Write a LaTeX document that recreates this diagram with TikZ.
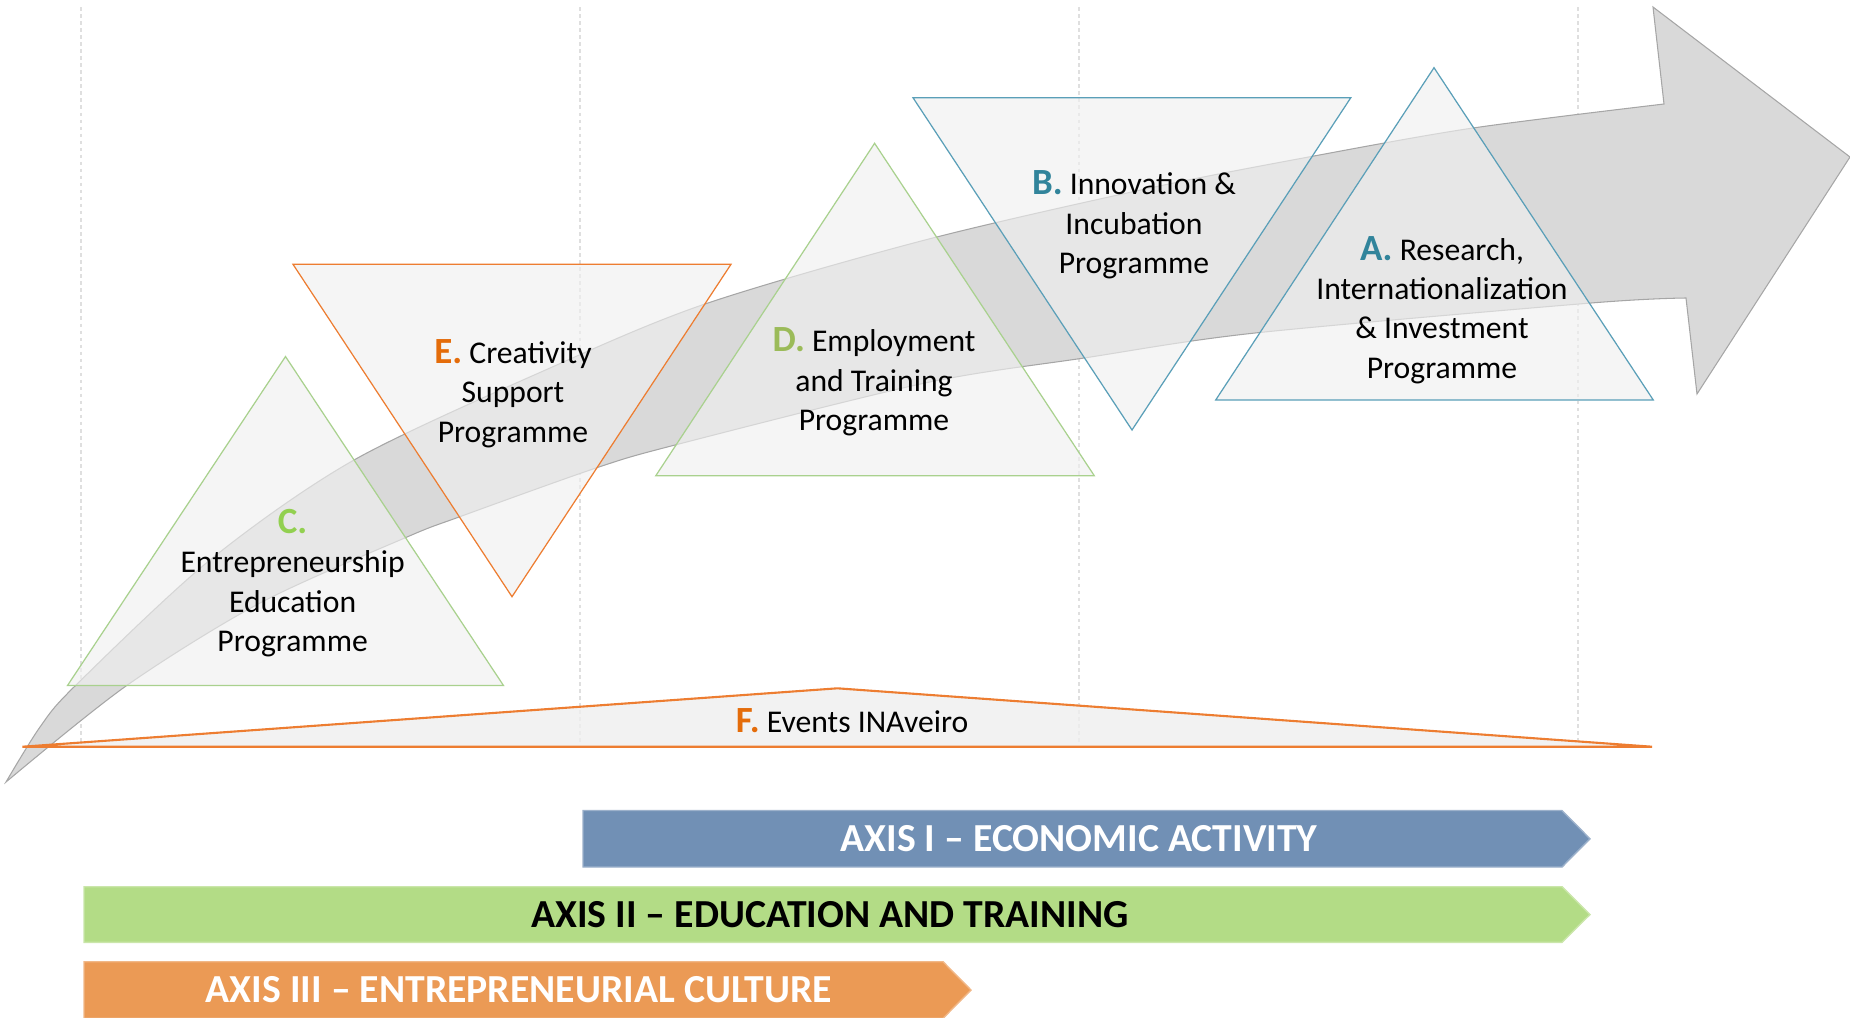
\documentclass[tikz,border=0pt]{standalone}
\usepackage{fontspec}
\setmainfont{Carlito}
\usepackage{tikz}
\definecolor{cGreen}{HTML}{92D050}
\definecolor{dGreen}{HTML}{9BBB59}
\definecolor{oOrange}{HTML}{E46C0A}
\definecolor{tTeal}{HTML}{31849B}
\definecolor{lnGreen}{HTML}{A9D18E}
\definecolor{lnOrange}{HTML}{ED7D31}
\definecolor{lnTeal}{HTML}{5A9FB8}
\definecolor{triFill}{HTML}{EFEFEF}
\definecolor{arrFill}{HTML}{D9D9D9}
\definecolor{axisOne}{HTML}{7190B5}
\definecolor{axisTwo}{HTML}{B3DC86}
\definecolor{axisThree}{HTML}{EB9A55}
\tikzset{grid/.style = {draw=gray!25, line width=0.3pt, dash pattern=on 1pt off 1pt}}
\tikzset{tri/.style = {fill=triFill, fill opacity=0.65, line width=0.35pt}}
\tikzset{txt/.style = {align=center, inner sep=0, font=\fontsize{9}{11.2}\selectfont}}
\tikzset{bartxt/.style = {inner sep=0, font=\fontsize{11.3}{13}\selectfont\bfseries}}
\newcommand{\ltr}[2]{{\fontsize{10.5}{11.2}\selectfont\bfseries\color{#1}#2}}

\begin{document}
\begin{tikzpicture}[x=0.01cm,y=-0.01cm]
        \useasboundingbox (0,0) rectangle (1850,1017);
        % grid
        \foreach \x in {81,580,1079,1578}
            \draw [grid] (\x,7) -- (\x,746);
        % big curved arrow
        \filldraw [fill=arrFill, draw=gray!70, line width=0.3pt]
            plot [smooth] coordinates {(6,782) (40,727) (75,686) (210,560) (354,460) (550,368) (705,304) (925,240) (1150,188) (1314,156) (1473,128) (1664,104)}
            -- (1653,7) -- (1850,157) -- (1697,394) -- (1686,298)
            -- plot [smooth] coordinates {(1686,298) (1591,303) (1255,333) (1084,358) (925,383) (675,445) (596,468) (459,517) (407,537) (260,603) (126,686) (6,782)}
            -- cycle;
        % programmes
        \filldraw [tri, draw=lnGreen] (67.5,685.5) -- (503.5,685.5) -- (285.5,356.5) -- cycle;
        \filldraw [tri, draw=lnOrange] (293,264.3) -- (731,264.3) -- (512,596.7) -- cycle;
        \filldraw [tri, draw=lnGreen] (655.8,475.7) -- (1094.3,475.7) -- (874.6,143.3) -- cycle;
        \filldraw [tri, draw=lnTeal] (913,97.7) -- (1350.8,97.7) -- (1132,430) -- cycle;
        \filldraw [tri, draw=lnTeal] (1215.7,400) -- (1653.3,400) -- (1434,67.7) -- cycle;
        \filldraw [fill=triFill, fill opacity=0.8, draw=lnOrange, line width=0.6pt] (22.4,746.7) -- (1652,746.7) -- (837.4,688.3) -- cycle;
        \node [txt] (progC) at (292.6,583) {\ltr{cGreen}{C.}\\Entrepreneurship\\Education\\Programme};
        \node [txt] (progE) at (513,393.5) {\ltr{oOrange}{E.} Creativity\\Support\\Programme};
        \node [txt] (progD) at (874,382) {\ltr{dGreen}{D.} Employment\\and Training\\Programme};
        \node [txt] (progB) at (1134,225) {\ltr{tTeal}{B.} Innovation \&\\Incubation\\Programme};
        \node [txt] (progA) at (1442,310) {\ltr{tTeal}{A.} Research,\\Internationalization\\\& Investment\\Programme};
        \node [txt] (progF) at (852,721) {\ltr{oOrange}{F.} Events INAveiro};
        % axes
        \filldraw [fill=axisOne, draw=axisOne!70!white, line width=0.4pt] (583,810.5) -- (1562,810.5) -- (1590,838.8) -- (1562,867) -- (583,867) -- cycle;
        \filldraw [fill=axisTwo, draw=axisTwo!70!white, line width=0.4pt] (84,886.7) -- (1562,886.7) -- (1590,914.5) -- (1562,942.3) -- (84,942.3) -- cycle;
        \filldraw [fill=axisThree, draw=axisThree!70!white, line width=0.4pt] (84,961.7) -- (943,961.7) -- (971,990) -- (943,1018.3) -- (84,1018.3) -- cycle;
        \node [bartxt, text=white] (axisI) at (1079,839) {AXIS I – ECONOMIC ACTIVITY};
        \node [bartxt, text=black] (axisII) at (830,914.5) {AXIS II – EDUCATION AND TRAINING};
        \node [bartxt, text=white] (axisIII) at (519,990) {AXIS III – ENTREPRENEURIAL CULTURE};
    \end{tikzpicture}
\end{document}
